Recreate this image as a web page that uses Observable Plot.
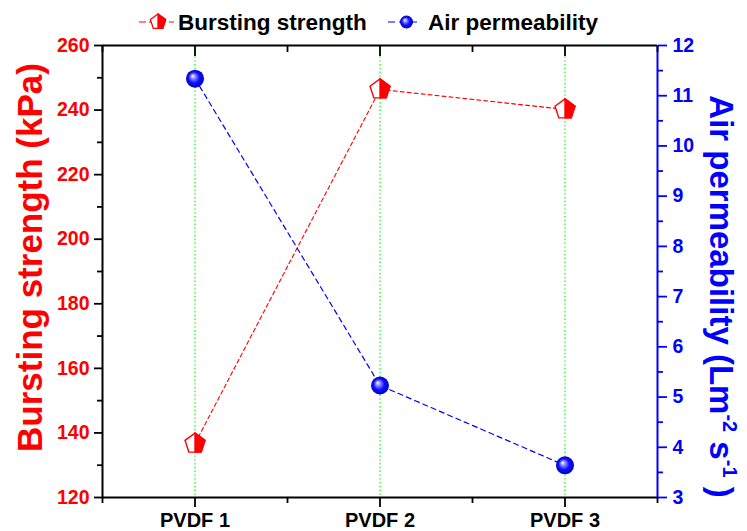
<!DOCTYPE html>
<html><head><meta charset="utf-8">
<script src="https://cdn.jsdelivr.net/npm/d3@7"></script>
<script src="https://cdn.jsdelivr.net/npm/@observablehq/plot@0.6"></script>
<style>
body{margin:0;background:#fff;font-family:"Liberation Sans",Arial,sans-serif;}
#legend{width:747px;height:36px;}
#legend svg,#chart svg{display:block;overflow:visible}
</style></head><body>
<div id="legend"></div><div id="chart"></div>
<script>
// ---- data ----
const categories = ["PVDF 1", "PVDF 2", "PVDF 3"];
const burstingStrength = [136.7, 246.4, 240.2];      // kPa (left axis)
const airPermeability = [11.34, 5.23, 3.64];         // L m^-2 s^-1 (right axis)
const leftTicks = [120, 140, 160, 180, 200, 220, 240, 260];
const leftMinorTicks = [130, 150, 170, 190, 210, 230, 250];
const rightTicks = [3, 4, 5, 6, 7, 8, 9, 10, 11, 12];
const rightMinorTicks = [3.5, 4.5, 5.5, 6.5, 7.5, 8.5, 9.5, 10.5, 11.5];
const seriesNames = ["Bursting strength", "Air permeability"];
const leftTitle = "Bursting strength (kPa)";

const RED = "#ff0000", BLUE = "#0000ff", GREEN = "#33ff33";
const leftDomain = [120, 260], rightDomain = [3, 12];
const toLeft = v => leftDomain[0] + (v - rightDomain[0]) * (leftDomain[1] - leftDomain[0]) / (rightDomain[1] - rightDomain[0]);
const fromLeft = v => rightDomain[0] + (v - leftDomain[0]) * (rightDomain[1] - rightDomain[0]) / (leftDomain[1] - leftDomain[0]);

const catIdx = categories.map((c, i) => i + 1);
const burst = categories.map((c, i) => ({x: i + 1, y: burstingStrength[i]}));
const air = categories.map((c, i) => ({x: i + 1, y: toLeft(airPermeability[i])}));
const majorX = catIdx, minorX = [0.5, 1.5, 2.5, 3.5];

// ---- symbols ----
const pentagon = {draw(ctx, size) {
  const R = Math.sqrt(size / Math.PI);
  for (let k = 0; k < 5; k++) {
    const a = -Math.PI / 2 + k * 2 * Math.PI / 5;
    const px = R * Math.cos(a), py = R * Math.sin(a);
    if (k) ctx.lineTo(px, py); else ctx.moveTo(px, py);
  }
  ctx.closePath();
}};
const halfPentagon = {draw(ctx, size) {
  const R = Math.sqrt(size / Math.PI);
  const a1 = -Math.PI / 2 + 2 * Math.PI / 5, a2 = -Math.PI / 2 + 4 * Math.PI / 5;
  ctx.moveTo(0, -R);
  ctx.lineTo(R * Math.cos(a1), R * Math.sin(a1));
  ctx.lineTo(R * Math.cos(a2), R * Math.sin(a2));
  ctx.lineTo(0, R * Math.sin(a2));
  ctx.closePath();
}};

function addGradient(svgSel, id) {
  const defs = svgSel.insert("defs", ":first-child");
  const g = defs.append("radialGradient").attr("id", id)
    .attr("cx", "50%").attr("cy", "50%").attr("r", "50%").attr("fx", "36%").attr("fy", "34%");
  g.append("stop").attr("offset", "0%").attr("stop-color", "#ffffff");
  g.append("stop").attr("offset", "22%").attr("stop-color", "#9a9aff");
  g.append("stop").attr("offset", "60%").attr("stop-color", "#1010ff");
  g.append("stop").attr("offset", "100%").attr("stop-color", "#0000c8");
}

// ---- chart ----
const tickFont = {fontSize: 19.5, fontWeight: "bold"};
const chart = Plot.plot({
  width: 747, height: 495,
  marginLeft: 102, marginRight: 90, marginTop: 9, marginBottom: 34,
  style: {fontFamily: "'Liberation Sans', Arial, sans-serif", background: "#fff", overflow: "visible"},
  x: {domain: [0.5, 3.5]},
  y: {domain: leftDomain},
  marks: [
    Plot.ruleX(catIdx, {stroke: GREEN, strokeWidth: 1.5, strokeDasharray: "1.4,2.4"}),
    Plot.line(burst, {x: "x", y: "y", stroke: RED, strokeWidth: 1.1, strokeDasharray: "4,3"}),
    Plot.line(air, {x: "x", y: "y", stroke: BLUE, strokeWidth: 1.2, strokeDasharray: "5,4"}),
    // frame
    Plot.ruleY([leftDomain[0]], {stroke: "black", strokeWidth: 2}),
    Plot.ruleY([leftDomain[1]], {stroke: "black", strokeWidth: 2}),
    Plot.ruleX([0.5], {stroke: "black", strokeWidth: 2}),
    Plot.ruleX([3.5], {stroke: BLUE, strokeWidth: 2}),
    // x axes
    Plot.axisX({anchor: "bottom", ticks: majorX, tickSize: 10, tickPadding: 5, tickFormat: i => categories[i - 1],
      stroke: "black", fill: "black", strokeWidth: 1.8, fontSize: 20, fontWeight: "bold", label: null}),
    Plot.axisX({anchor: "bottom", ticks: minorX, tickSize: 6, stroke: "black", fill: "none", strokeWidth: 1.8, label: null}),
    Plot.axisX({anchor: "top", ticks: majorX, tickSize: -10, stroke: "black", fill: "none", strokeWidth: 1.8, label: null}),
    Plot.axisX({anchor: "top", ticks: minorX, tickSize: -6, stroke: "black", fill: "none", strokeWidth: 1.8, label: null}),
    // left axis
    Plot.axisY({anchor: "left", ticks: leftTicks, tickSize: 8, tickPadding: 5, stroke: "black", fill: RED,
      strokeWidth: 1.8, label: null, ...tickFont}),
    Plot.axisY({anchor: "left", ticks: leftMinorTicks, tickSize: 5, stroke: "black", fill: "none", strokeWidth: 1.8, label: null}),
    // right axis
    Plot.axisY({anchor: "right", ticks: rightTicks.map(toLeft), tickFormat: d => Math.round(fromLeft(d)),
      tickSize: 9, tickPadding: 6, stroke: BLUE, fill: BLUE, strokeWidth: 1.8, label: null, ...tickFont}),
    Plot.axisY({anchor: "right", ticks: rightMinorTicks.map(toLeft), tickSize: 5, stroke: BLUE, fill: "none", strokeWidth: 1.8, label: null}),
    // markers
    Plot.dot(burst, {x: "x", y: "y", symbol: pentagon, r: 10.5, fill: "white", stroke: RED, strokeWidth: 1.4}),
    Plot.dot(burst, {x: "x", y: "y", symbol: halfPentagon, r: 10.5, fill: RED, stroke: RED, strokeWidth: 1.4}),
    Plot.dot(air, {x: "x", y: "y", r: 9, fill: "url(#sphereGrad)"}),
    // titles
    Plot.text([leftTitle], {frameAnchor: "left", textAnchor: "middle", lineAnchor: "middle", dx: -72, dy: -14, rotate: -90, fill: RED,
      fontSize: 35, fontWeight: "bold"}),
    Plot.text(["Air permeability"], {frameAnchor: "right", textAnchor: "middle", lineAnchor: "middle", dx: 63, dy: 25, rotate: 90, fill: BLUE,
      fontSize: 33, fontWeight: "bold", className: "right-title"})
  ]
});
const svgSel = d3.select(chart);
addGradient(svgSel, "sphereGrad");
// right title with superscripts
const rt = svgSel.select("g.right-title text");
rt.text(null);
rt.append("tspan").text("Air permeability (Lm");
rt.append("tspan").attr("font-size", 20).attr("dy", -13).text("-2");
rt.append("tspan").attr("dy", 13).text(" s");
rt.append("tspan").attr("font-size", 20).attr("dy", -13).text("-1");
rt.append("tspan").attr("dy", 13).text(" )");
document.getElementById("chart").appendChild(chart);

// ---- legend ----
const lg = d3.select("#legend").append("svg").attr("width", 747).attr("height", 36)
  .style("font-family", "'Liberation Sans', Arial, sans-serif");
addGradient(lg, "sphereGradL");
const ly = 22;
lg.append("line").attr("x1", 139).attr("x2", 174).attr("y1", ly).attr("y2", ly)
  .attr("stroke", RED).attr("stroke-width", 1.2).attr("stroke-dasharray", "7,3");
const lp = d3.path(); pentagon.draw(lp, 8 * 8 * Math.PI);
const lh = d3.path(); halfPentagon.draw(lh, 8 * 8 * Math.PI);
lg.append("path").attr("d", lp.toString()).attr("transform", `translate(158,${ly})`)
  .attr("fill", "white").attr("stroke", RED).attr("stroke-width", 1.3);
lg.append("path").attr("d", lh.toString()).attr("transform", `translate(158,${ly})`)
  .attr("fill", RED).attr("stroke", RED).attr("stroke-width", 1.3);
lg.append("text").attr("x", 178).attr("y", 30).attr("font-size", 22.5).attr("font-weight", "bold").text(seriesNames[0]);
lg.append("line").attr("x1", 388).attr("x2", 418).attr("y1", ly).attr("y2", ly)
  .attr("stroke", BLUE).attr("stroke-width", 1.2).attr("stroke-dasharray", "7,4");
lg.append("circle").attr("cx", 406.5).attr("cy", ly).attr("r", 6.5).attr("fill", "url(#sphereGradL)");
lg.append("text").attr("x", 428).attr("y", 30).attr("font-size", 22.5).attr("font-weight", "bold").text(seriesNames[1]);
</script>
</body></html>
